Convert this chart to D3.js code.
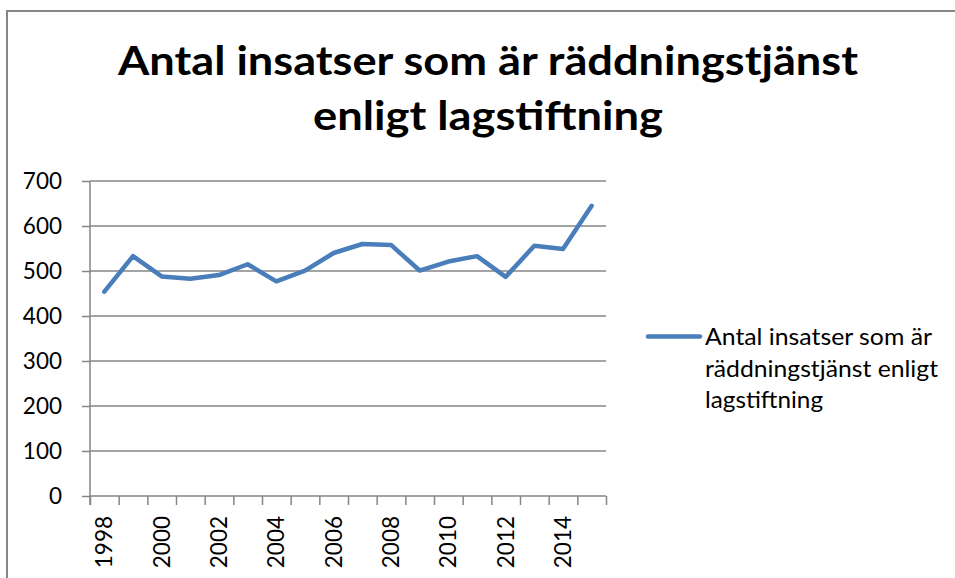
<!DOCTYPE html>
<meta charset="utf-8">
<style>
  body { margin: 0; background: #fff; }
  text { font-family: Lato, "Open Sans", sans-serif; fill: #000; }
</style>
<svg width="955" height="578"></svg>
<script src="https://d3js.org/d3.v7.min.js"></script>
<script>

var years = [1998, 1999, 2000, 2001, 2002, 2003, 2004, 2005, 2006,
             2007, 2008, 2009, 2010, 2011, 2012, 2013, 2014, 2015];
var insatser = [454, 533, 488, 483, 491, 515, 477, 501, 540,
                560, 558, 501, 521, 533, 487, 556, 549, 645];
var yTicks = [0, 100, 200, 300, 400, 500, 600, 700];
var titleLines = ["Antal insatser som är räddningstjänst", "enligt lagstiftning"];
var legendLines = ["Antal insatser som är", "räddningstjänst enligt", "lagstiftning"];

var svg = d3.select("svg");
var grey = "#868686", blue = "#4a7ebb";

// chart frame (runs off the right and bottom edge)
svg.append("rect")
    .attr("x", 7).attr("y", 11)
    .attr("width", 980).attr("height", 600)
    .attr("fill", "none").attr("stroke", grey).attr("stroke-width", 2);

// title
svg.selectAll(".title")
    .data(titleLines)
  .enter().append("text")
    .attr("class", "title")
    .attr("x", 488)
    .attr("y", function(d, i) { return 75 + i * 55; })
    .attr("text-anchor", "middle")
    .attr("font-size", 41)
    .attr("font-weight", "bold")
    .attr("textLength", function(d, i) { return i == 0 ? 740 : 350; })
    .attr("lengthAdjust", "spacingAndGlyphs")
    .text(function(d) { return d; });

var x = d3.scaleBand().domain(years).range([90, 606]).padding(0);
var xEdge = d3.scaleLinear().domain([0, years.length]).range([90, 606]);
var y = d3.scaleLinear().domain([0, 700]).range([496, 181]);

// gridlines
svg.append("g")
    .selectAll("line")
    .data(yTicks.slice(1))
  .enter().append("line")
    .attr("x1", 90).attr("x2", 606)
    .attr("y1", function(d) { return y(d); })
    .attr("y2", function(d) { return y(d); })
    .attr("stroke", grey).attr("stroke-width", 1.5);

// y axis
var yAxis = svg.append("g")
    .attr("transform", "translate(90,0)")
    .call(d3.axisLeft(y).tickValues(yTicks).tickSize(8).tickPadding(20));
yAxis.select(".domain").attr("stroke", grey).attr("stroke-width", 1.5)
    .attr("d", "M0,181V505");
yAxis.selectAll(".tick line").attr("stroke", grey).attr("stroke-width", 1.5);
yAxis.selectAll(".tick text")
    .attr("font-family", "Lato, sans-serif")
    .attr("font-size", 22.5)
    .attr("fill", "#000");

// x axis: tick marks at category edges
var xAxis = svg.append("g")
    .attr("transform", "translate(0,496)")
    .call(d3.axisBottom(xEdge).tickValues(d3.range(years.length + 1))
        .tickSize(9).tickFormat(""));
xAxis.select(".domain").attr("stroke", grey).attr("stroke-width", 1.5)
    .attr("d", "M90,0H606");
xAxis.selectAll(".tick line").attr("stroke", grey).attr("stroke-width", 1.5);

// x labels, every second year, rotated
var xLab = svg.append("g")
    .attr("transform", "translate(0,496)")
    .call(d3.axisBottom(x)
        .tickValues(years.filter(function(d, i) { return i % 2 == 0; }))
        .tickSize(0).tickPadding(0));
xLab.select(".domain").remove();
xLab.selectAll(".tick text")
    .attr("font-family", "Lato, sans-serif")
    .attr("font-size", 22.5)
    .attr("fill", "#000")
    .attr("text-anchor", "end")
    .attr("transform", "rotate(-90)")
    .attr("x", -20)
    .attr("y", 0)
    .attr("dy", "0.36em");

// data line
var line = d3.line()
    .x(function(d, i) { return x(years[i]) + x.bandwidth() / 2; })
    .y(function(d) { return y(d); });

svg.append("path")
    .datum(insatser)
    .attr("d", line)
    .attr("fill", "none")
    .attr("stroke", blue)
    .attr("stroke-width", 4.5)
    .attr("stroke-linejoin", "round")
    .attr("stroke-linecap", "round");

// legend
svg.append("line")
    .attr("x1", 648).attr("x2", 700)
    .attr("y1", 336.5).attr("y2", 336.5)
    .attr("stroke", blue).attr("stroke-width", 4.5)
    .attr("stroke-linecap", "round");

var legendWidths = [227, 233, 118];
svg.selectAll(".legend")
    .data(legendLines)
  .enter().append("text")
    .attr("class", "legend")
    .attr("x", 705)
    .attr("y", function(d, i) { return 345 + i * 31.5; })
    .attr("font-size", 24)
    .attr("textLength", function(d, i) { return legendWidths[i]; })
    .attr("lengthAdjust", "spacingAndGlyphs")
    .text(function(d) { return d; });

</script>
